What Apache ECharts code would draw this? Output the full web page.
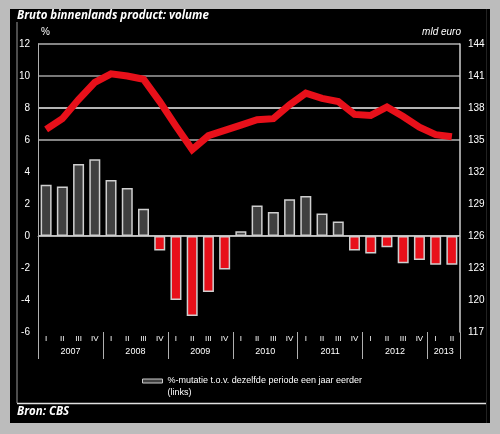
<!DOCTYPE html>
<html><head><meta charset="utf-8">
<script src="https://cdn.jsdelivr.net/npm/echarts@6/dist/echarts.min.js"></script>
<style>html,body{margin:0;padding:0;background:#bcbcbc}#c{width:500px;height:434px}</style>
</head><body><div id="c"></div>
<script>
const categories = ['2007 I','2007 II','2007 III','2007 IV','2008 I','2008 II','2008 III','2008 IV',
  '2009 I','2009 II','2009 III','2009 IV','2010 I','2010 II','2010 III','2010 IV',
  '2011 I','2011 II','2011 III','2011 IV','2012 I','2012 II','2012 III','2012 IV','2013 I','2013 II'];
const years = ['2007','2008','2009','2010','2011','2012','2013'];
const growthPct = [3.2,3.1,4.5,4.8,3.5,3.0,1.7,-0.9,-4.0,-5.0,-3.5,-2.1,0.3,1.9,1.5,2.3,2.5,1.4,0.9,-0.9,-1.1,-0.7,-1.7,-1.5,-1.8,-1.8];
const gdpVolume = [136.0,137.0,138.8,140.4,141.2,141.0,140.7,138.6,136.3,134.1,135.4,135.9,136.4,136.9,137.0,138.3,139.4,138.9,138.6,137.4,137.3,138.1,137.2,136.2,135.5,135.3];
const leftAxis = {min: -6, max: 12, interval: 2};
const rightAxis = {min: 117, max: 144, interval: 3};
const barName = '%-mutatie t.o.v. dezelfde periode een jaar eerder\n(links)';
const lineName = 'Bbp volume (mld euro, rechts)';

const quarterOf = c => c.split(' ')[1];
const yearStart = years.map(y => categories.findIndex(c => c.startsWith(y)));
const yearCount = years.map(y => categories.filter(c => c.startsWith(y)).length);
const yearBounds = yearStart.concat([categories.length]);
const yearCenters = yearStart.map((s, i) => s + yearCount[i] / 2);

const RED = '#e8101a';
const GRAY_BAR = '#404040';
const FONT = 'Liberation Sans';

// split line colours per tick from -6 to 12
const splitColors = ['transparent','transparent','transparent','#ffffff','transparent','transparent','#b0b0b0','#f0f0f0','#a0a0a0','#b0b0b0'];

const chart = echarts.init(document.getElementById('c'), null, {renderer: 'canvas'});
chart.setOption({
  backgroundColor: '#bcbcbc',
  animation: false,
  grid: {left: 38, right: 40, top: 44, bottom: 102, containLabel: false},
  legend: {
    left: 137, top: 358, itemWidth: 20, itemHeight: 4, icon: 'rect', selectedMode: false,
    data: [{name: barName, itemStyle: {color: GRAY_BAR, borderColor: '#cccccc', borderWidth: 1}}],
    formatter: n => ' \n' + n,
    textStyle: {color: '#ffffff', fontSize: 9, fontFamily: FONT, lineHeight: 12}
  },
  xAxis: [
    {
      type: 'category', data: categories, gridIndex: 0, position: 'bottom',
      axisLine: {show: true, lineStyle: {color: '#b0b0b0', width: 1}},
      axisTick: {show: false},
      axisLabel: {color: '#ffffff', fontSize: 8, fontFamily: FONT, margin: 3, interval: 0, formatter: v => quarterOf(v)},
      splitLine: {show: false}
    },
    {
      type: 'value', gridIndex: 0, position: 'bottom', min: 0, max: categories.length,
      axisLine: {show: false},
      axisTick: {show: true, length: 27, customValues: yearBounds, lineStyle: {color: '#b0b0b0', width: 1}},
      axisLabel: {show: true, color: '#ffffff', fontSize: 9, fontFamily: FONT, margin: 15, customValues: yearCenters,
        formatter: v => { const i = yearCenters.indexOf(v); return i >= 0 ? years[i] : ''; }},
      splitLine: {show: false}
    }
  ],
  yAxis: [
    {
      type: 'value', position: 'left', min: leftAxis.min, max: leftAxis.max, interval: leftAxis.interval,
      axisLine: {show: true, lineStyle: {color: '#b0b0b0', width: 1}},
      axisTick: {show: false},
      axisLabel: {color: '#ffffff', fontSize: 10, fontFamily: FONT, margin: 8},
      splitLine: {show: true, lineStyle: {color: splitColors, width: 1.5}}
    },
    {
      type: 'value', position: 'right', min: rightAxis.min, max: rightAxis.max, interval: rightAxis.interval,
      axisLine: {show: true, lineStyle: {color: '#d0d0d0', width: 1.5}},
      axisTick: {show: false},
      axisLabel: {color: '#ffffff', fontSize: 10, fontFamily: FONT, margin: 8},
      splitLine: {show: false}
    }
  ],
  series: [
    {
      name: barName, type: 'bar', xAxisIndex: 0, yAxisIndex: 0, barWidth: 11,
      itemStyle: {color: GRAY_BAR, borderColor: '#cfcfcf', borderWidth: 1.5},
      data: growthPct.map(v => ({value: v, itemStyle: {color: v >= 0 ? GRAY_BAR : RED}}))
    },
    {
      name: lineName, type: 'line', xAxisIndex: 0, yAxisIndex: 1, data: gdpVolume,
      symbol: 'none', lineStyle: {color: RED, width: 7, join: 'miter'}, itemStyle: {color: RED}, z: 5
    }
  ],
  graphic: {elements: [
    {type: 'rect', z: -100, shape: {x: 10, y: 9, width: 480, height: 414}, style: {fill: '#000000'}, silent: true},
    {type: 'line', z: -50, shape: {x1: 17, y1: 22, x2: 17, y2: 403}, style: {stroke: '#9a9a9a', lineWidth: 1}},
    {type: 'line', z: -50, shape: {x1: 17, y1: 403.5, x2: 487, y2: 403.5}, style: {stroke: '#e0e0e0', lineWidth: 1.5}},
    {type: 'line', z: -50, shape: {x1: 486.5, y1: 9, x2: 486.5, y2: 423}, style: {stroke: '#222222', lineWidth: 1}},
    {type: 'text', left: 17, top: 10, style: {text: 'Bruto binnenlands product: volume', fill: '#ffffff', font: 'italic bold 11.5px "Open Sans"'}},
    {type: 'text', left: 17, top: 406, style: {text: 'Bron: CBS', fill: '#ffffff', font: 'italic bold 11.5px "Open Sans"'}},
    {type: 'text', left: 41, top: 27, style: {text: '%', fill: '#ffffff', font: '10px "Liberation Sans"'}},
    {type: 'text', right: 39, top: 27, style: {text: 'mld euro', fill: '#ffffff', font: 'italic 10px "Liberation Sans"'}}
  ]}
});
</script></body></html>
